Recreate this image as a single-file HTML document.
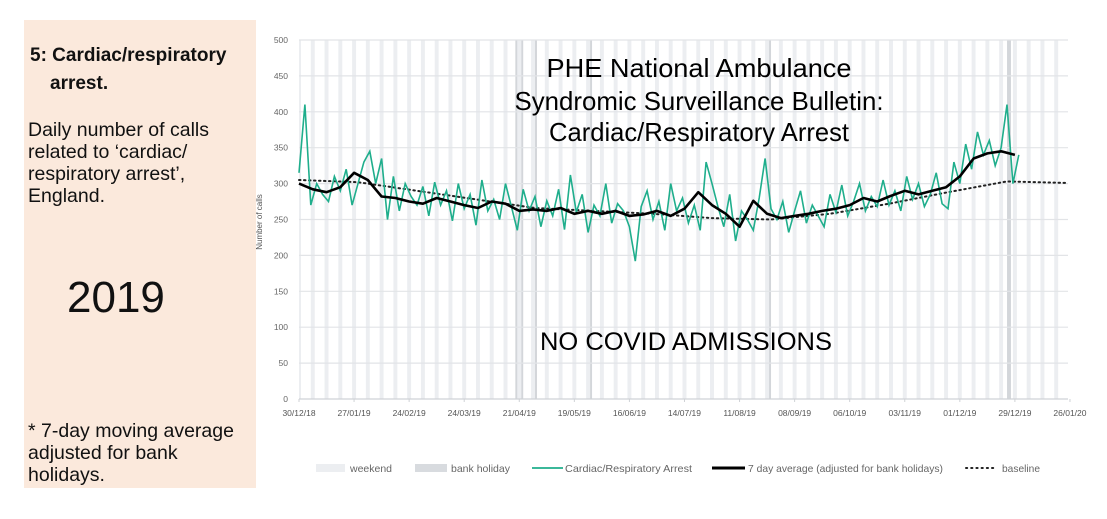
<!DOCTYPE html>
<html><head><meta charset="utf-8">
<style>
body{margin:0;width:1107px;height:519px;background:#fff;overflow:hidden;position:relative;font-family:"Liberation Sans",Arial,sans-serif}
#panel{position:absolute;left:24px;top:20px;width:232px;height:468px;background:#fbe9dc}
.t{position:absolute;color:#111;white-space:nowrap}
</style></head><body>
<div id="panel">
  <div class="t" style="left:6px;top:25px;font-size:19px;font-weight:bold">5: Cardiac/respiratory</div>
  <div class="t" style="left:26px;top:53px;font-size:19px;font-weight:bold">arrest.</div>
  <div class="t" style="left:4px;top:99px;font-size:19.5px;line-height:22px">Daily number of calls<br>related to ‘cardiac/<br>respiratory arrest’,<br>England.</div>
  <div class="t" style="left:43px;top:253px;font-size:44px">2019</div>
  <div class="t" style="left:4px;top:400px;font-size:19.5px;line-height:22px">* 7-day moving average<br>adjusted for bank<br>holidays.</div>
</div>
<svg id="chart" width="1107" height="519" style="position:absolute;left:0;top:0"></svg>
<script>
const yTicks=[0,50,100,150,200,250,300,350,400,450,500];
const xTickLabels=["30/12/18","27/01/19","24/02/19","24/03/19","21/04/19","19/05/19","16/06/19","14/07/19","11/08/19","08/09/19","06/10/19","03/11/19","01/12/19","29/12/19","26/01/20"];
const bankHolidayDays=[110,113,120,148,239,360,361];
// daily calls sampled every 3 days from 30/12/18
const dailyCalls=[315,410,270,300,285,275,310,290,320,270,
300,330,345,300,335,250,310,262,300,282,
270,296,255,302,270,290,248,300,265,285,
242,305,262,278,250,300,268,235,292,262,
282,240,276,255,292,236,312,260,285,232,
270,255,300,245,272,262,240,192,268,290,
250,275,235,300,262,280,245,270,235,330,
300,268,240,285,220,262,250,235,280,335,
265,250,275,232,262,290,245,270,255,240,
285,260,298,255,275,300,262,282,268,305,
270,290,262,310,278,300,268,285,315,272,
265,330,300,355,320,372,340,360,325,350,
410,300,340];
// 7-day average, weekly
const avg7=[300,292,288,295,315,305,282,280,275,272,
280,275,270,266,275,272,262,264,262,266,
258,262,258,262,255,257,262,255,265,288,
270,258,240,276,258,252,255,258,262,265,
270,280,275,283,290,285,290,295,310,335,
342,345,340];
// baseline every 30 days
const baseline=[305,302,290,278,266,262,258,252,250,258,272,288,303,301];

const NS="http://www.w3.org/2000/svg";
const svg=document.getElementById('chart');
const X0=299,X1=1068,Y0=399,Y1=40,DAYS=391;
const xs=d=>X0+(d/DAYS)*(X1-X0);
const ys=v=>Y0-(v/500)*(Y0-Y1);
function el(tag,attrs,parent){const e=document.createElementNS(NS,tag);for(const k in attrs)e.setAttribute(k,attrs[k]);(parent||svg).appendChild(e);return e;}

for(let d=-1;d<DAYS;d+=7){
  const a=Math.max(d,0),b=Math.min(d+2,DAYS);
  const r=el('rect',{x:xs(a),y:Y1,width:xs(b)-xs(a),height:Y0-Y1,fill:'#eceef1'});
  
  
}
bankHolidayDays.forEach(d=>{
  const r=el('rect',{x:xs(d),y:Y1,width:xs(d+1)-xs(d),height:Y0-Y1,fill:'#d3d6da'});
  
  
});
yTicks.forEach(v=>{
  const g=el('line',{x1:X0,x2:X1,y1:ys(v),y2:ys(v),stroke:v===0?'#cfd2d6':'#e2e4e7','stroke-width':1.2});
  
  
  const t=el('text',{x:288,y:ys(v)+3,'text-anchor':'end','font-size':8.5,fill:'#666','font-family':'Liberation Sans, sans-serif'});
  t.textContent=v;
  
  
});
xTickLabels.forEach((s,i)=>{
  const x=xs(i*28);
  el('line',{x1:x,x2:x,y1:Y0,y2:Y0+3,stroke:'#cfd2d6'});
  const t=el('text',{x:x,y:416,'text-anchor':'middle','font-size':8.5,fill:'#555','font-family':'Liberation Sans, sans-serif'});
  t.textContent=s;
  
  
});
const yt=el('text',{x:0,y:0,transform:'translate(262,222) rotate(-90)','text-anchor':'middle','font-size':8,fill:'#555','font-family':'Liberation Sans, sans-serif'});
yt.textContent='Number of calls';



function path(pts,attrs,name){
  const p=el('path',Object.assign({d:'M'+pts.map(q=>q[0].toFixed(1)+','+q[1].toFixed(1)).join('L'),fill:'none'},attrs));
  
  
}
path(baseline.map((v,i)=>[xs(i*30),ys(v)]),{stroke:'#222','stroke-width':2,'stroke-dasharray':'1.5,3.5','stroke-linecap':'round'},'baseline-line');
path(dailyCalls.map((v,i)=>[xs(i*3),ys(v)]),{stroke:'#1fae8c','stroke-width':1.6},'daily-calls-line');
path(avg7.map((v,i)=>[xs(i*7),ys(v)]),{stroke:'#000','stroke-width':2.6,'stroke-linejoin':'round'},'seven-day-average-line');

[["PHE National Ambulance",77,305],["Syndromic Surveillance Bulletin:",110,369],["Cardiac/Respiratory Arrest",141,300]].forEach(([s,y,w])=>{
  const t=el('text',{x:699,y:y,'text-anchor':'middle','font-size':26,fill:'#000','font-family':'Liberation Sans, sans-serif',textLength:w,lengthAdjust:'spacingAndGlyphs'});
  t.textContent=s;
  
  
});
const nc=el('text',{x:686,y:350,'text-anchor':'middle','font-size':25,fill:'#000','font-family':'Liberation Sans, sans-serif',textLength:292,lengthAdjust:'spacingAndGlyphs'});
nc.textContent='NO COVID ADMISSIONS';



const LY=468;
function ltext(x,s,w){const t=el('text',{x:x,y:LY+4,'font-size':10.5,fill:'#666','font-family':'Liberation Sans, sans-serif',textLength:w,lengthAdjust:'spacingAndGlyphs'});t.textContent=s;}
let r=el('rect',{x:316,y:LY-4,width:29,height:8,fill:'#eceef1'});


ltext(350,'weekend',42);
r=el('rect',{x:415,y:LY-4,width:32,height:8,fill:'#d8dbdf'});


ltext(451,'bank holiday',59);
r=el('line',{x1:532,x2:563,y1:LY,y2:LY,stroke:'#1fae8c','stroke-width':1.8});


ltext(565,'Cardiac/Respiratory Arrest',127);
r=el('line',{x1:712,x2:745,y1:LY,y2:LY,stroke:'#000','stroke-width':3});


ltext(748,'7 day average (adjusted for bank holidays)',195);
r=el('line',{x1:966,x2:995,y1:LY,y2:LY,stroke:'#222','stroke-width':2,'stroke-dasharray':'1.2,4','stroke-linecap':'round'});


ltext(1002,'baseline',38);
</script>
</body></html>
